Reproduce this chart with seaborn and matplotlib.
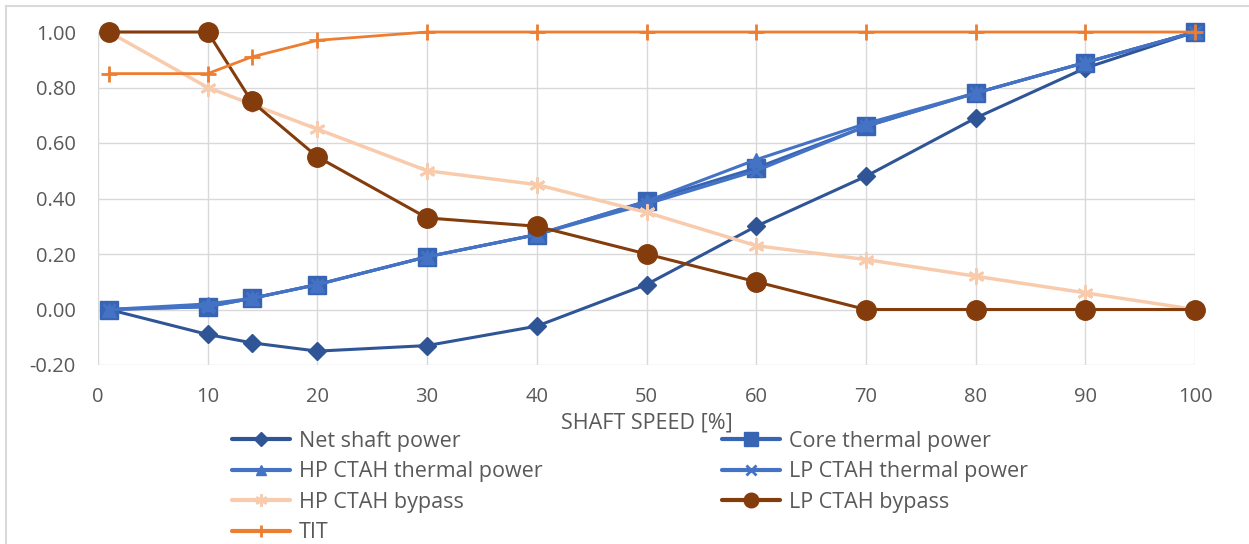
import matplotlib
matplotlib.use("Agg")
import matplotlib.pyplot as plt
from matplotlib.lines import Line2D
import seaborn as sns
import pandas as pd

# Shaft speed operating points [%]
shaft_speed = [1, 10, 14, 20, 30, 40, 50, 60, 70, 80, 90, 100]

# Normalised quantities at each shaft speed
net_shaft_power = [0.00, -0.09, -0.12, -0.15, -0.13, -0.06, 0.09, 0.30, 0.48, 0.69, 0.87, 1.00]
core_thermal_power = [0.00, 0.01, 0.04, 0.09, 0.19, 0.27, 0.39, 0.51, 0.66, 0.78, 0.89, 1.00]
hp_ctah_thermal_power = [0.00, 0.02, 0.04, 0.09, 0.19, 0.27, 0.39, 0.54, 0.67, 0.78, 0.89, 1.00]
lp_ctah_thermal_power = [0.00, 0.01, 0.04, 0.09, 0.19, 0.27, 0.38, 0.50, 0.66, 0.78, 0.89, 1.00]
hp_ctah_bypass = [1.00, 0.80, 0.74, 0.65, 0.50, 0.45, 0.35, 0.23, 0.18, 0.12, 0.06, 0.00]
lp_ctah_bypass = [1.00, 1.00, 0.75, 0.55, 0.33, 0.30, 0.20, 0.10, 0.00, 0.00, 0.00, 0.00]
tit = [0.85, 0.85, 0.91, 0.97, 1.00, 1.00, 1.00, 1.00, 1.00, 1.00, 1.00, 1.00]

series_names = ["Net shaft power", "Core thermal power", "HP CTAH thermal power",
                "LP CTAH thermal power", "HP CTAH bypass", "LP CTAH bypass", "TIT"]
series_values = [net_shaft_power, core_thermal_power, hp_ctah_thermal_power,
                 lp_ctah_thermal_power, hp_ctah_bypass, lp_ctah_bypass, tit]

x_ticks = list(range(0, 101, 10))
y_ticks = [-0.2, 0.0, 0.2, 0.4, 0.6, 0.8, 1.0]

styles = {
    "Net shaft power": dict(color="#2F5597", marker="D", markersize=9, lw=2.2),
    "Core thermal power": dict(color="#3864B4", marker="s", markersize=12.5, lw=2.2),
    "HP CTAH thermal power": dict(color="#4472C4", marker="^", markersize=10.5, lw=2.2),
    "LP CTAH thermal power": dict(color="#4472C4", marker="x", markersize=9, lw=2.2, mew=2.0),
    "HP CTAH bypass": dict(color="#F8CBAD", marker=(6, 2, 0), markersize=11.5, lw=2.5, mew=2.0),
    "LP CTAH bypass": dict(color="#843C0C", marker="o", markersize=14, lw=2.2),
    "TIT": dict(color="#ED7D31", marker="+", markersize=12, lw=2.0, mew=2.0),
}

TEXT_COLOR = "#595959"
TICK_FS = 14.5
FS = 15.5

sns.set_theme(style="white")
plt.rcParams["font.family"] = ["Open Sans", "DejaVu Sans"]

W, H = 1249, 544
fig = plt.figure(figsize=(W / 100, H / 100), dpi=100)
ax = fig.add_axes([98 / W, 1 - 365 / H, (1195 - 98) / W, (365 - 32) / H])

for name, values in zip(series_names, series_values):
    df = pd.DataFrame({"speed": shaft_speed, "value": values})
    st = styles[name]
    sns.lineplot(data=df, x="speed", y="value", ax=ax, label=name,
                 color=st["color"], marker=st["marker"], markersize=st["markersize"],
                 linewidth=st["lw"], markeredgewidth=st.get("mew", 1.0),
                 markeredgecolor=st["color"], sort=False, clip_on=False)

ax.set_xlim(0, 100)
ax.set_ylim(-0.2, 1.0)
ax.set_xticks(x_ticks)
ax.set_yticks(y_ticks)
ax.set_yticklabels([f"{v:.2f}" for v in y_ticks])
ax.tick_params(axis="y", labelsize=TICK_FS, colors=TEXT_COLOR, length=0, pad=16)
ax.tick_params(axis="x", labelsize=TICK_FS, colors=TEXT_COLOR, length=0, pad=16)
ax.grid(True, color="#D9D9D9", linewidth=1.0)
ax.set_axisbelow(True)
for sp in ax.spines.values():
    sp.set_visible(False)

ax.set_xlabel("SHAFT SPEED [%]", fontsize=FS, color=TEXT_COLOR, labelpad=4)
ax.set_ylabel("")

# Two-column legend laid out row by row
handles, labels = ax.get_legend_handles_labels()
ax.get_legend().remove()
lookup = dict(zip(labels, handles))
left_col = ["Net shaft power", "HP CTAH thermal power", "HP CTAH bypass", "TIT"]
right_col = ["Core thermal power", "LP CTAH thermal power", "LP CTAH bypass"]
leg_kw = dict(loc="upper left", frameon=False, fontsize=FS, handlelength=2.7,
              handletextpad=0.4, labelspacing=0.44, borderpad=0, borderaxespad=0,
              markerscale=0.75, labelcolor=TEXT_COLOR)
top = 1 - 431 / H
for col, x0 in ((left_col, 232), (right_col, 722)):
    leg = fig.legend([lookup[k] for k in col], col, bbox_to_anchor=(x0 / W, top), **leg_kw)
    for ln in leg.get_lines():
        ln.set_linewidth(3.0)

# Chart frame along the top and left edges
frame_kw = dict(transform=fig.transFigure, color="#D9D9D9", linewidth=1.5)
fig.add_artist(Line2D([6 / W, 1.0], [1 - 6 / H, 1 - 6 / H], **frame_kw))
fig.add_artist(Line2D([6 / W, 6 / W], [0.0, 1 - 6 / H], **frame_kw))

fig.savefig("out.png", dpi=100)
